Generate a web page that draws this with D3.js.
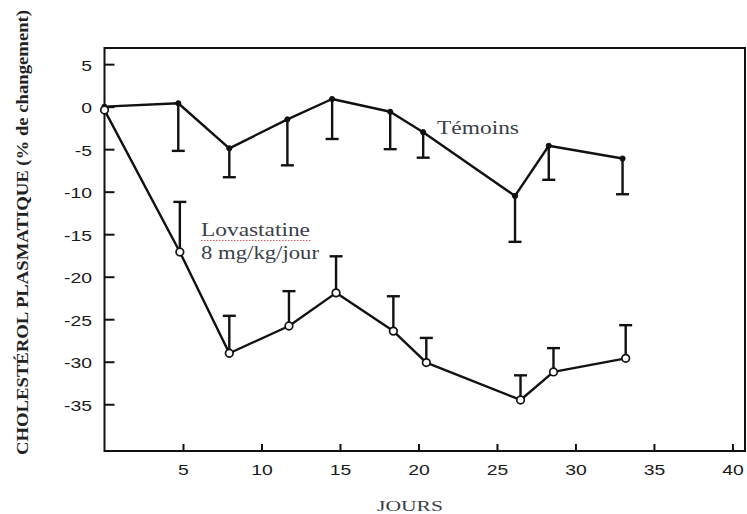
<!DOCTYPE html>
<html>
<head>
<meta charset="utf-8">
<script src="https://cdn.jsdelivr.net/npm/d3@7"></script>
<style>
  body { margin: 0; background: #fff; }
  svg { display: block; }
</style>
</head>
<body>
<svg id="chart" width="747" height="514"></svg>
<script>
// data (days, % change, error bar length)
const temoinsDays = [0, 4.7, 7.95, 11.65, 14.5, 18.2, 20.3, 26.15, 28.3, 33.0];
const temoinsVals = [0, 0.4, -4.9, -1.5, 0.9, -0.6, -3.0, -10.5, -4.6, -6.1];
const temoinsErr  = [0, 5.6, 3.4, 5.4, 4.7, 4.4, 3.0, 5.4, 4.0, 4.2];

const lovaDays = [0, 4.8, 7.95, 11.75, 14.75, 18.4, 20.5, 26.5, 28.6, 33.2];
const lovaVals = [-0.4, -17.1, -29.0, -25.8, -21.9, -26.4, -30.1, -34.5, -31.2, -29.6];
const lovaErr  = [0, 5.9, 4.4, 4.1, 4.3, 4.1, 2.9, 2.9, 2.8, 3.9];

const xTicks = [5, 10, 15, 20, 25, 30, 35, 40];
const yTicks = [5, 0, -5, -10, -15, -20, -25, -30, -35];

const svg = d3.select("#chart");

// plot frame
const plotLeft = 104.5, plotRight = 745, plotTop = 48, plotBottom = 451;

const x = d3.scaleLinear().domain([0, 40.8]).range([plotLeft, plotRight]);
const y = d3.scaleLinear().domain([-40.5, 6.9]).range([plotBottom, plotTop]);

// frame box
svg.append("rect")
  .attr("x", plotLeft).attr("y", plotTop)
  .attr("width", plotRight - plotLeft).attr("height", plotBottom - plotTop)
  .attr("fill", "none").attr("stroke", "#111").attr("stroke-width", 2);

// axes, ticks pointing inward
const xAxis = d3.axisBottom(x).tickValues(xTicks).tickSize(-7).tickPadding(10)
  .tickFormat(d => String(d));
const yAxis = d3.axisLeft(y).tickValues(yTicks).tickSize(-10).tickPadding(10)
  .tickFormat(d => String(d));

const gx = svg.append("g").attr("transform", `translate(0,${plotBottom})`).call(xAxis);
const gy = svg.append("g").attr("transform", `translate(${plotLeft},0)`).call(yAxis);

// the original scan is stretched sideways, so widen the digits a bit
for (const g of [gx, gy]) {
  g.select(".domain").remove();
  g.selectAll(".tick line").attr("stroke", "#111").attr("stroke-width", 2);
  g.selectAll(".tick text")
    .attr("fill", "#1a1a1a")
    .attr("transform", "scale(1.25,1)")
    .style("font-family", "'Liberation Sans', Arial, sans-serif")
    .style("font-size", "15.5px");
}
gx.selectAll(".tick text").attr("dy", "0.9em");
gy.selectAll(".tick text").attr("x", -10).attr("dy", "0.4em");

// draws one series: line, error bars, markers
function drawSeries(days, vals, errs, dir, open) {
  const pts = days.map((d, i) => ({ d: d, v: vals[i], e: errs[i] }));
  const g = svg.append("g");

  const line = d3.line().x(p => x(p.d)).y(p => y(p.v));
  g.append("path").datum(pts)
    .attr("d", line)
    .attr("fill", "none").attr("stroke", "#111").attr("stroke-width", 2.4)
    .attr("stroke-linejoin", "round");

  const bars = g.selectAll(".err").data(pts.filter(p => p.e > 0)).enter()
    .append("g").attr("class", "err");
  bars.append("line")
    .attr("x1", p => x(p.d)).attr("x2", p => x(p.d))
    .attr("y1", p => y(p.v)).attr("y2", p => y(p.v + dir * p.e))
    .attr("stroke", "#111").attr("stroke-width", 2.4);
  bars.append("line")
    .attr("x1", p => x(p.d) - 6.5).attr("x2", p => x(p.d) + 6.5)
    .attr("y1", p => y(p.v + dir * p.e)).attr("y2", p => y(p.v + dir * p.e))
    .attr("stroke", "#111").attr("stroke-width", 2.4);

  g.selectAll(".pt").data(pts).enter().append("circle")
    .attr("cx", p => x(p.d)).attr("cy", p => y(p.v))
    .attr("r", open ? 3.8 : 2.6)
    .attr("fill", open ? "#fff" : "#111")
    .attr("stroke", "#111").attr("stroke-width", open ? 1.7 : 1);
}

drawSeries(temoinsDays, temoinsVals, temoinsErr, -1, false);
drawSeries(lovaDays, lovaVals, lovaErr, 1, true);

// labels (text boxes laid over the scan)
const serif = "'Liberation Serif', 'Times New Roman', serif";
const labelColor = "#3b3f4a";

function label(txt, lx, ly, size, width) {
  return svg.append("text").attr("x", lx).attr("y", ly)
    .attr("textLength", width).attr("lengthAdjust", "spacingAndGlyphs")
    .style("font-family", serif).style("font-size", size + "px")
    .attr("fill", labelColor)
    .text(txt);
}

label("Témoins", 437, 134, 18, 82);
label("Lovastatine", 201, 236, 18, 109);
// spell-check style underline under Lovastatine
svg.append("line").attr("x1", 201).attr("x2", 311).attr("y1", 240.5).attr("y2", 240.5)
  .attr("stroke", "#e05a5a").attr("stroke-width", 1.2).attr("stroke-dasharray", "1.5,1.5");
label("8 mg/kg/jour", 201, 259, 18, 118);
label("JOURS", 377, 511, 15, 66);

svg.append("text")
  .attr("transform", "translate(28,232.5) rotate(-90)")
  .attr("text-anchor", "middle")
  .attr("textLength", 445).attr("lengthAdjust", "spacingAndGlyphs")
  .style("font-family", serif).style("font-size", "16px").style("font-weight", "bold")
  .attr("fill", "#222")
  .text("CHOLESTÉROL PLASMATIQUE (% de changement)");
</script>
</body>
</html>
